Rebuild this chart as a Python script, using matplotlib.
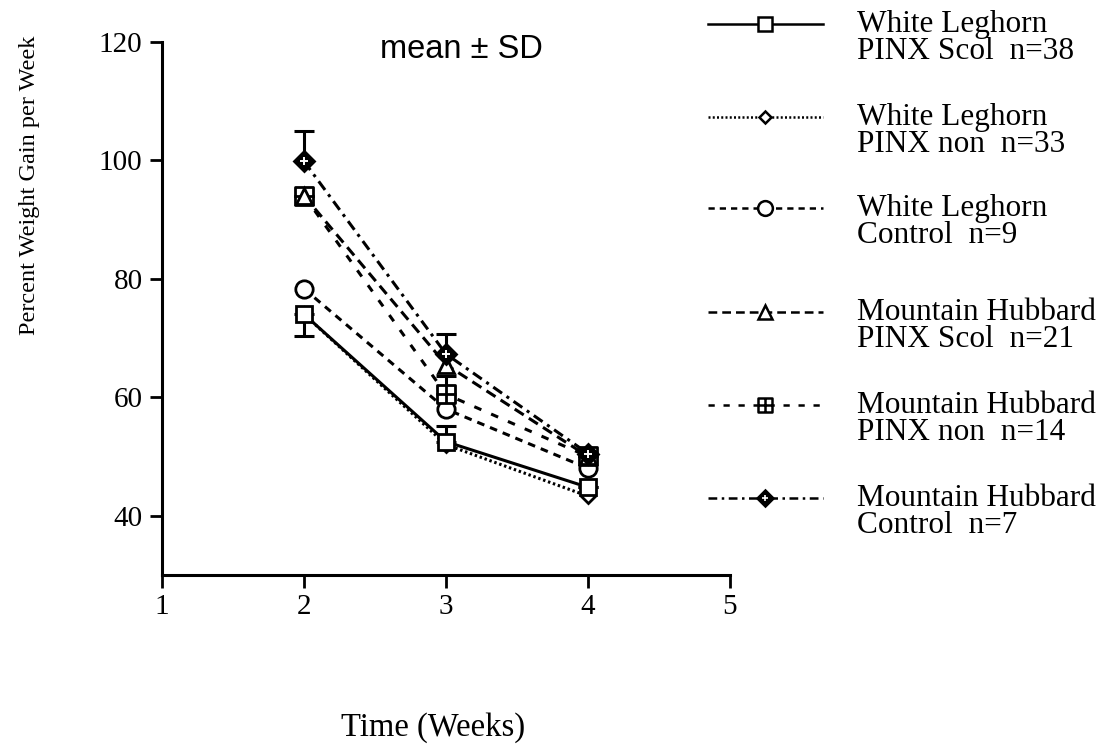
import matplotlib
matplotlib.use("Agg")
import matplotlib.pyplot as plt
from matplotlib.path import Path

# ---------------- data ----------------
weeks = [2, 3, 4]
wl_scol = [74.0, 52.5, 44.8]
wl_non = [74.0, 52.0, 43.3]
wl_ctrl = [78.3, 58.0, 48.0]
mh_scol = [94.0, 65.5, 50.0]
mh_non = [94.0, 60.5, 50.0]
mh_ctrl = [99.8, 67.3, 50.5]

# SD bars (only the visible half of each bar)
wl_scol_sd_low = [3.7, 0.0, 0.0]
wl_scol_sd_up = [0.0, 2.6, 0.0]
mh_non_sd_up = [0.0, 3.0, 0.0]
mh_ctrl_sd_up = [5.1, 3.4, 0.0]

labels_line1 = ["White Leghorn", "White Leghorn", "White Leghorn",
                "Mountain Hubbard", "Mountain Hubbard", "Mountain Hubbard"]
labels_line2 = ["PINX Scol  n=38", "PINX non  n=33", "Control  n=9",
                "PINX Scol  n=21", "PINX non  n=14", "Control  n=7"]

xticks = [1, 2, 3, 4, 5]
yticks = [40, 60, 80, 100, 120]

# ---------------- style ----------------
serif = "Liberation Serif"
sans = "Liberation Sans"

sq_plus = Path(
    [(-1, -1), (1, -1), (1, 1), (-1, 1), (-1, -1), (-1, 0), (1, 0), (0, -1), (0, 1)],
    [Path.MOVETO, Path.LINETO, Path.LINETO, Path.LINETO, Path.CLOSEPOLY,
     Path.MOVETO, Path.LINETO, Path.MOVETO, Path.LINETO])

series = [
    dict(y=wl_scol, ls="-", marker="s", ms=12, mfc="white", z=3.5),
    dict(y=wl_non, ls=(0, (0.8, 0.9)), marker="D", ms=7.5, mfc="white", z=3.0),
    dict(y=wl_ctrl, ls=(0, (2.5, 2)), marker="o", ms=12.5, mfc="white", z=3.2),
    dict(y=mh_scol, ls=(0, (3.5, 2)), marker="^", ms=12, mfc="white", z=3.8),
    dict(y=mh_non, ls=(0, (2.5, 3.5)), marker=sq_plus, ms=12.5, mfc="white", z=3.6),
    dict(y=mh_ctrl, ls=(0, (3.5, 1.8, 1, 1.8)), marker="D", ms=10, mfc="black", z=4.0),
]

W, H = 1117, 751
fig = plt.figure(figsize=(W / 100, H / 100), dpi=100)
ax = fig.add_axes([162 / W, 1 - 575 / H, (730 - 162) / W, (575 - 41.7) / H])

for s in series:
    ax.plot(weeks, s["y"], linestyle=s["ls"], color="black", lw=2.2,
            marker=s["marker"], ms=s["ms"], mfc=s["mfc"], mec="black", mew=2,
            zorder=s["z"])
# white crosshair in the MH control marker
ax.plot(weeks, mh_ctrl, linestyle="none", marker="+", ms=6, mew=1.4,
        color="white", zorder=4.1)

ax.errorbar(weeks, wl_scol, yerr=[wl_scol_sd_low, wl_scol_sd_up], fmt="none",
            ecolor="black", elinewidth=2.2, capsize=7, capthick=2.2, zorder=2)
ax.errorbar(weeks, mh_non, yerr=[[0, 0, 0], mh_non_sd_up], fmt="none",
            ecolor="black", elinewidth=2.2, capsize=7, capthick=2.2, zorder=2)
ax.errorbar(weeks, mh_ctrl, yerr=[[0, 0, 0], mh_ctrl_sd_up], fmt="none",
            ecolor="black", elinewidth=2.2, capsize=7, capthick=2.2, zorder=2)

ax.set_xlim(1, 5)
ax.set_ylim(30, 120)
ax.set_xticks(xticks)
ax.set_yticks(yticks)
ax.set_xticklabels([str(t) for t in xticks], fontfamily=serif, fontsize=21)
ax.set_yticklabels([str(t) for t in yticks], fontfamily=serif, fontsize=21)
for sp in ("top", "right"):
    ax.spines[sp].set_visible(False)
for sp in ("left", "bottom"):
    ax.spines[sp].set_linewidth(2.2)
ax.tick_params(direction="out", length=9, width=2, pad=5)
ax.set_facecolor("none")

fig.text(30 / W, 1 - 185 / H, "Percent Weight Gain per Week", fontfamily=serif,
         fontsize=17.5, rotation=90, ha="center", va="center")
fig.text(433 / W, 1 - 728 / H, "Time (Weeks)", fontfamily=serif, fontsize=23.5,
         ha="center", va="center")
fig.text(461 / W, 1 - 50 / H, "mean \u00b1 SD", fontfamily=sans, fontsize=23.5,
         ha="center", va="center")

# ---------------- legend (drawn beside the axes) ----------------
lax = fig.add_axes([0, 0, 1, 1])
lax.set_xlim(0, W)
lax.set_ylim(H, 0)
lax.axis("off")
entry_y = [24, 117, 208, 312, 405, 498]
for i, s in enumerate(series):
    y = entry_y[i]
    lax.plot([708, 823], [y, y], linestyle=s["ls"], color="black", lw=1.8)
    lax.plot([765], [y], linestyle="none", marker=s["marker"],
             ms=s["ms"] * 0.85, mfc=s["mfc"], mec="black", mew=1.8)
    lax.text(857, y + 14, labels_line1[i] + "\n" + labels_line2[i],
             fontfamily=serif, fontsize=22.5, linespacing=0.9,
             va="center", ha="left")
lax.plot([765], [entry_y[5]], linestyle="none", marker="+", ms=5, mew=1.2,
         color="white")

fig.savefig("out.png", dpi=100)
